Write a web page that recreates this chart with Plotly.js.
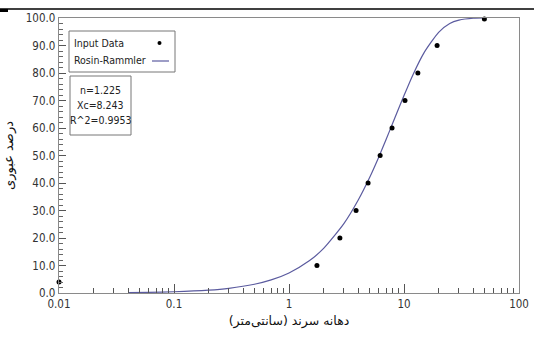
<!DOCTYPE html>
<html><head><meta charset="utf-8">
<script src="https://cdn.plot.ly/plotly-3.0.1.min.js"></script>
<style>html,body{margin:0;padding:0;background:#fff}#c{width:534px;height:338px}</style>
</head><body><div id="c"></div>
<script>
// Measured data
const dataX = [0.01, 1.75, 2.77, 3.83, 4.87, 6.2, 7.87, 10.2, 13.2, 19.4, 50];
const dataY = [4, 10, 20, 30, 40, 50, 60, 70, 80, 90, 99.6];
// Fitted Rosin-Rammler curve
const curveX = [0.04, 0.06, 0.1, 0.2, 0.3, 0.5, 0.7, 1, 1.5, 2, 3, 4, 5, 6, 7, 8, 10, 12, 15, 20, 25, 30, 40, 50];
const curveY = [0.15, 0.24, 0.45, 1.04, 1.71, 3.18, 4.76, 7.3, 11.7, 16.2, 25.2, 33.8, 41.8, 49.2, 55.9, 61.9, 71.8, 79.5, 87.5, 94.8, 98.0, 99.2, 99.9, 100];
const xTickVals = [0.01, 0.1, 1, 10, 100];
const xTickText = ["0.01", "0.1", "1", "10", "100"];
const legendNames = ["Input Data", "Rosin-Rammler"];
const statsLines = ["n=1.225", "Xc=8.243", "R^2=0.9953"];
const yTitle = "درصد عبوری";
const xTitle = "دهانه سرند (سانتی‌متر)";

const minorX = [];
[0.01, 0.1, 1, 10].forEach(d => { for (let k = 2; k <= 9; k++) minorX.push(+(d * k).toPrecision(3)); });

const F = "'DejaVu Sans Condensed', 'Liberation Sans Narrow', 'Liberation Sans', Arial, sans-serif";
const W = 534, H = 338, L = 59, R = 15, T = 18, B = 45;
const pw = W - L - R, ph = H - T - B;
const px = x => (x - L) / pw, py = y => (H - B - y) / ph;

const traces = [
  {x: curveX, y: curveY, mode: 'lines', name: legendNames[1], line: {color: '#5b5b9f', width: 1.2, shape: 'spline', smoothing: 0.6}, hoverinfo: 'skip'},
  {x: dataX, y: dataY, mode: 'markers', name: legendNames[0], marker: {color: '#000', size: 5}, cliponaxis: false}
];

const axisCommon = {showline: true, mirror: true, linecolor: '#8a8a8a', linewidth: 1.3, ticks: 'inside', tickcolor: '#555', showgrid: false, zeroline: false, tickfont: {family: F, size: 11.5, color: '#333'}};
const AF = {family: F, size: 10.5, color: '#222'};

const layout = {
  width: W, height: H, margin: {l: L, r: R, t: T, b: B},
  paper_bgcolor: '#fff', plot_bgcolor: '#fff', showlegend: false,
  xaxis: Object.assign({}, axisCommon, {type: 'log', range: [-2, 2], tickmode: 'array', tickvals: xTickVals, ticktext: xTickText, ticklen: 9,
    minor: {tickmode: 'array', tickvals: minorX, ticks: 'inside', ticklen: 5, tickcolor: '#555'},
    title: {text: xTitle, font: {family: "'DejaVu Sans', sans-serif", size: 12.5, color: '#111'}, standoff: 6}}),
  yaxis: Object.assign({}, axisCommon, {range: [0, 100], dtick: 10, tickformat: '.1f', ticklen: 7,
    minor: {dtick: 2, ticks: 'inside', ticklen: 4, tickcolor: '#666'},
    title: {text: yTitle, font: {family: "'DejaVu Sans', sans-serif", size: 13, color: '#111'}, standoff: 9}}),
  shapes: [
    {type: 'line', xref: 'paper', yref: 'paper', x0: px(0), x1: px(534), y0: py(9), y1: py(9), line: {color: '#000', width: 1.5}},
    {type: 'rect', xref: 'paper', yref: 'paper', x0: px(0), x1: px(8), y0: py(12), y1: py(9), fillcolor: '#000', line: {width: 0}},
    {type: 'rect', xref: 'paper', yref: 'paper', x0: px(69), x1: px(175), y0: py(72), y1: py(31), line: {color: '#777', width: 1}, fillcolor: 'rgba(0,0,0,0)'},
    {type: 'rect', xref: 'paper', yref: 'paper', x0: px(70), x1: px(131), y0: py(135), y1: py(76), line: {color: '#777', width: 1}, fillcolor: 'rgba(0,0,0,0)'},
    {type: 'circle', xref: 'paper', yref: 'paper', x0: px(157.5), x1: px(161.5), y0: py(45), y1: py(41), fillcolor: '#000', line: {width: 0}},
    {type: 'line', xref: 'paper', yref: 'paper', x0: px(152), x1: px(169), y0: py(61), y1: py(61), line: {color: '#5b5b9f', width: 1.2}}
  ],
  annotations: [
    {xref: 'paper', yref: 'paper', x: px(72), y: py(43), xanchor: 'left', yanchor: 'middle', text: legendNames[0], showarrow: false, font: AF},
    {xref: 'paper', yref: 'paper', x: px(72), y: py(60), xanchor: 'left', yanchor: 'middle', text: legendNames[1], showarrow: false, font: AF},
    {xref: 'paper', yref: 'paper', x: px(100.5), y: py(90), xanchor: 'center', yanchor: 'middle', text: statsLines[0], showarrow: false, font: AF},
    {xref: 'paper', yref: 'paper', x: px(100.5), y: py(105), xanchor: 'center', yanchor: 'middle', text: statsLines[1], showarrow: false, font: AF},
    {xref: 'paper', yref: 'paper', x: px(100.5), y: py(120), xanchor: 'center', yanchor: 'middle', text: statsLines[2], showarrow: false, font: AF}
  ]
};
Plotly.newPlot('c', traces, layout, {staticPlot: true, displayModeBar: false});
</script></body></html>
